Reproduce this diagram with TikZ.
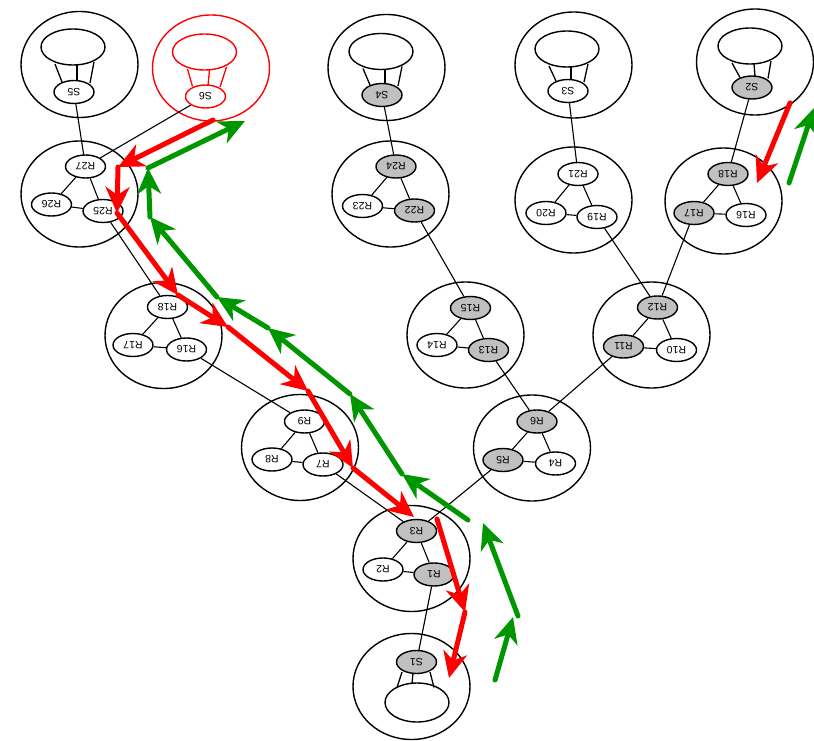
\documentclass[tikz,border=0pt]{standalone}
\usepackage{fontspec}
\newfontfamily\labfont{Liberation Sans}
\usetikzlibrary{shapes.geometric,arrows.meta,calc}
\definecolor{nodegray}{RGB}{192,192,192}
\definecolor{arrred}{RGB}{255,0,0}
\definecolor{arrgreen}{RGB}{0,150,0}
\begin{document}
\begin{tikzpicture}[x=1pt,y=-1pt,
 clus/.style={ellipse,draw,line width=1.4pt,minimum width=117pt,minimum height=106pt,inner sep=0pt},
 cloud/.style={ellipse,draw,line width=1.4pt,minimum width=64pt,minimum height=36pt,inner sep=0pt},
 rt/.style={ellipse,draw,line width=1.4pt,minimum width=40pt,minimum height=23pt,inner sep=0pt,fill=white,font=\labfont\fontsize{10.5}{11}\selectfont,rotate=180},
 rg/.style={rt,fill=nodegray},
 link/.style={line width=1.1pt},
 redpath/.style={line width=5pt,arrred,line cap=round,-{Stealth[length=26pt,width=24pt,inset=8pt]}},
 greenpath/.style={line width=5pt,arrgreen,line cap=round,-{Stealth[length=26pt,width=24pt,inset=8pt]}}
]
\useasboundingbox (0,0) rectangle (814,741);

% clusters
\node[clus] (cS5) at (79.5,64.5) {};
\node[clus,red] (cS6) at (211,68) {};
\node[clus] (cS4) at (386.5,67.5) {};
\node[clus] (cS3) at (573.5,65) {};
\node[clus] (cS2) at (755,62) {};
\node[clus] (cR27) at (79.5,194) {};
\node[clus] (cR24) at (390.5,194) {};
\node[clus] (cR21) at (573.5,200) {};
\node[clus] (cR18b) at (723.5,201) {};
\node[clus] (cR18a) at (163.5,335.5) {};
\node[clus] (cR15) at (465.5,335) {};
\node[clus] (cR12) at (651.5,335) {};
\node[clus] (cR9) at (300,447.5) {};
\node[clus] (cR6) at (532,448) {};
\node[clus] (cR3) at (411.5,558.5) {};
\node[clus] (cS1) at (411.5,686.5) {};

% clouds
\node[cloud] (kS5) at (73,47) {};
\node[cloud,red] (kS6) at (204.5,52) {};
\node[cloud] (kS4) at (381,51.5) {};
\node[cloud] (kS3) at (567,49) {};
\node[cloud] (kS2) at (750,46) {};
\node[cloud,minimum height=39pt] (kS1) at (417,702.5) {};

% S nodes
\node[rt] (S5) at (74,92) {S5};
\node[rt,draw=red,text=black] (S6) at (205.5,96.5) {S6};
\node[rg] (S4) at (382,95) {S4};
\node[rt] (S3) at (568,91) {S3};
\node[rg] (S2) at (752,87.5) {S2};
\node[rg] (S1) at (416.5,662) {S1};

% R nodes
\node[rt] (R27) at (85.5,166.5) {R27};
\node[rt] (R26) at (51.5,204.5) {R26};
\node[rt] (R25) at (103,211) {R25};
\node[rg] (R24) at (396,166.5) {R24};
\node[rt] (R23) at (362.5,206) {R23};
\node[rg] (R22) at (414.5,210.5) {R22};
\node[rt] (R21) at (578,174) {R21};
\node[rt] (R20) at (546,213) {R20};
\node[rt] (R19) at (597,217) {R19};
\node[rg] (R18b) at (728,174) {R18};
\node[rg] (R17b) at (694,213) {R17};
\node[rt] (R16b) at (746,215) {R16};
\node[rt] (R18a) at (167.5,307) {R18};
\node[rt] (R17a) at (133,345) {R17};
\node[rt] (R16a) at (186.5,349.5) {R16};
\node[rg] (R15) at (470.5,308) {R15};
\node[rt] (R14) at (437,345) {R14};
\node[rg] (R13) at (488.5,350) {R13};
\node[rg] (R12) at (657.5,307.5) {R12};
\node[rg] (R11) at (623.5,346.5) {R11};
\node[rt] (R10) at (676.5,350) {R10};
\node[rt] (R9) at (304.5,421.5) {R9};
\node[rt] (R8) at (272,459.5) {R8};
\node[rt] (R7) at (323,464.5) {R7};
\node[rg] (R6) at (537,421.5) {R6};
\node[rg] (R5) at (503,460) {R5};
\node[rt] (R4) at (555.5,463.5) {R4};
\node[rg] (R3) at (416.5,531) {R3};
\node[rt] (R2) at (383,569.5) {R2};
\node[rg] (R1) at (434,574.5) {R1};

% cloud to S node links (three each)
\foreach \k/\s in {kS5/S5,kS4/S4,kS3/S3,kS2/S2}{
  \draw[link,line width=1.3pt] ($(\k)+(-18,17)$) -- ($(\s)+(-12,-10)$);
  \draw[link,line width=1.3pt] ($(\k)+(4,18)$) -- ($(\s)+(3,-11.5)$);
  \draw[link,line width=1.3pt] ($(\k)+(21,15)$) -- ($(\s)+(16,-9)$);
}
\draw[link,red,line width=1.3pt] ($(kS6)+(-17,17)$) -- ($(S6)+(-13,-10)$);
\draw[link,red,line width=1.3pt] ($(kS6)+(5,18)$) -- ($(S6)+(2.5,-11)$);
\draw[link,red,line width=1.3pt] ($(kS6)+(22,15)$) -- ($(S6)+(14.5,-9.5)$);
\draw[link,line width=1.3pt] ($(S1)+(-14.5,10)$) -- ($(kS1)+(-20,-15)$);
\draw[link,line width=1.3pt] ($(S1)+(-3.5,11)$) -- ($(kS1)+(-5,-19)$);
\draw[link,line width=1.3pt] ($(S1)+(13.5,10)$) -- ($(kS1)+(17,-15)$);

% intra-cluster triangles
\foreach \a/\b/\c in {R27/R26/R25,R24/R23/R22,R21/R20/R19,R18b/R17b/R16b,R18a/R17a/R16a,R15/R14/R13,R12/R11/R10,R9/R8/R7,R6/R5/R4,R3/R2/R1}{
  \draw[link] (\a) -- (\b);
  \draw[link] (\a) -- (\c);
  \draw[link] (\b) -- (\c);
}

% inter-cluster links
\draw[link] (S5) -- (R27);
\draw[link] (S6) -- (R27);
\draw[link] (S4) -- (R24);
\draw[link] (S3) -- (R21);
\draw[link] (S2) -- (R18b);
\draw[link] (R25) -- (R18a);
\draw[link] (R22) -- (R15);
\draw[link] (R19) -- (R12);
\draw[link] (R17b) -- (R12);
\draw[link] (R16a) -- (R9);
\draw[link] (R13) -- (R6);
\draw[link] (R11) -- (R6);
\draw[link] (R7) -- (R3);
\draw[link] (R5) -- (R3);
\draw[link] (R1) -- (S1);

% path coordinates
\coordinate (r1) at (213,120);
\coordinate (r2) at (118,167);
\coordinate (r3) at (117,213);
\coordinate (r4) at (178,295);
\coordinate (r5) at (228,327);
\coordinate (r6) at (308,391);
\coordinate (r7) at (353,468);
\coordinate (r8) at (414,517);
\coordinate (r9) at (437,519);
\coordinate (r10) at (465,612);
\coordinate (r11) at (449,678);
\coordinate (r12) at (790,103);
\coordinate (r13) at (757,183);

\coordinate (g1) at (495,680);
\coordinate (g2) at (513,617);
\coordinate (g3) at (518,616);
\coordinate (g4) at (483,523);
\coordinate (g5) at (468,520);
\coordinate (g6) at (402,474);
\coordinate (g7) at (350,394);
\coordinate (g8) at (268,328);
\coordinate (g9) at (217,297);
\coordinate (g10) at (150,217);
\coordinate (g11) at (148,168);
\coordinate (g12) at (245,121);
\coordinate (g13) at (789,183);
\coordinate (g14) at (814,108);

% red path
\draw[redpath] (r1) -- (r2);
\draw[redpath] (r2) -- (r3);
\draw[redpath] (r3) -- (r4);
\draw[redpath] (r4) -- (r5);
\draw[redpath] (r5) -- (r6);
\draw[redpath] (r6) -- (r7);
\draw[redpath] (r7) -- (r8);
\draw[redpath] (r9) -- (r10);
\draw[redpath] (r10) -- (r11);
\draw[redpath] (r12) -- (r13);

% green path
\draw[greenpath] (g1) -- (g2);
\draw[greenpath] (g3) -- (g4);
\draw[greenpath] (g5) -- (g6);
\draw[greenpath] (g6) -- (g7);
\draw[greenpath] (g7) -- (g8);
\draw[greenpath] (g8) -- (g9);
\draw[greenpath] (g9) -- (g10);
\draw[greenpath] (g10) -- (g11);
\draw[greenpath] (g11) -- (g12);
\draw[greenpath] (g13) -- (g14);
\end{tikzpicture}
\end{document}
